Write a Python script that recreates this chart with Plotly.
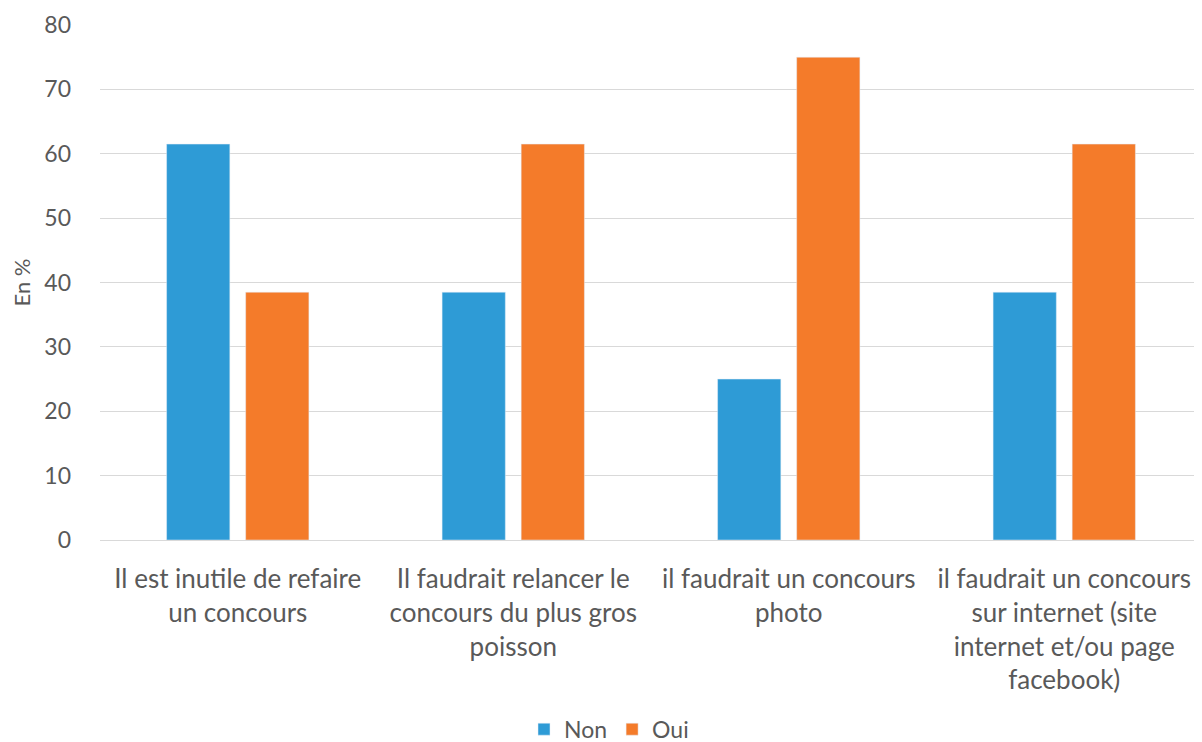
import plotly.graph_objects as go

# Categories (survey statements) and responses in %
categories = [
    "Il est inutile de refaire<br>un concours",
    "Il faudrait relancer le<br>concours du plus gros<br>poisson",
    "il faudrait un concours<br>photo",
    "il faudrait un concours<br>sur internet (site<br>internet et/ou page<br>facebook)",
]
non_values = [61.5, 38.5, 25.0, 38.5]
oui_values = [38.5, 61.5, 75.0, 61.5]

grey = "#595959"

fig = go.Figure()
fig.add_trace(go.Bar(x=categories, y=non_values, name="Non", marker_color="#2E9BD6"))
fig.add_trace(go.Bar(x=categories, y=oui_values, name="Oui", marker_color="#F47B2A"))

fig.update_layout(
    width=1202, height=742,
    margin=dict(l=92, r=8, t=17, b=210),
    barmode="group", bargap=0.426, bargroupgap=0.2,
    plot_bgcolor="white", paper_bgcolor="white",
    font=dict(family="Lato, Open Sans, sans-serif", color=grey, size=20),
    legend=dict(orientation="h", xref="container", yref="container",
                x=0.5, xanchor="center", y=0.028, yanchor="middle",
                font=dict(size=23), itemwidth=30),
    showlegend=True,
)
fig.update_yaxes(range=[0, 80], dtick=10, gridcolor="#d9d9d9", gridwidth=1,
                 zeroline=True, zerolinecolor="#d9d9d9", zerolinewidth=1,
                 tickfont=dict(size=23), ticklabelstandoff=28, automargin=False,
                 title=dict(text="En %", font=dict(size=22), standoff=12))
fig.update_xaxes(tickfont=dict(size=26), tickangle=0, ticks="", showline=False,
                 automargin=False, ticklabelstandoff=21)

fig.write_html("out.html")
